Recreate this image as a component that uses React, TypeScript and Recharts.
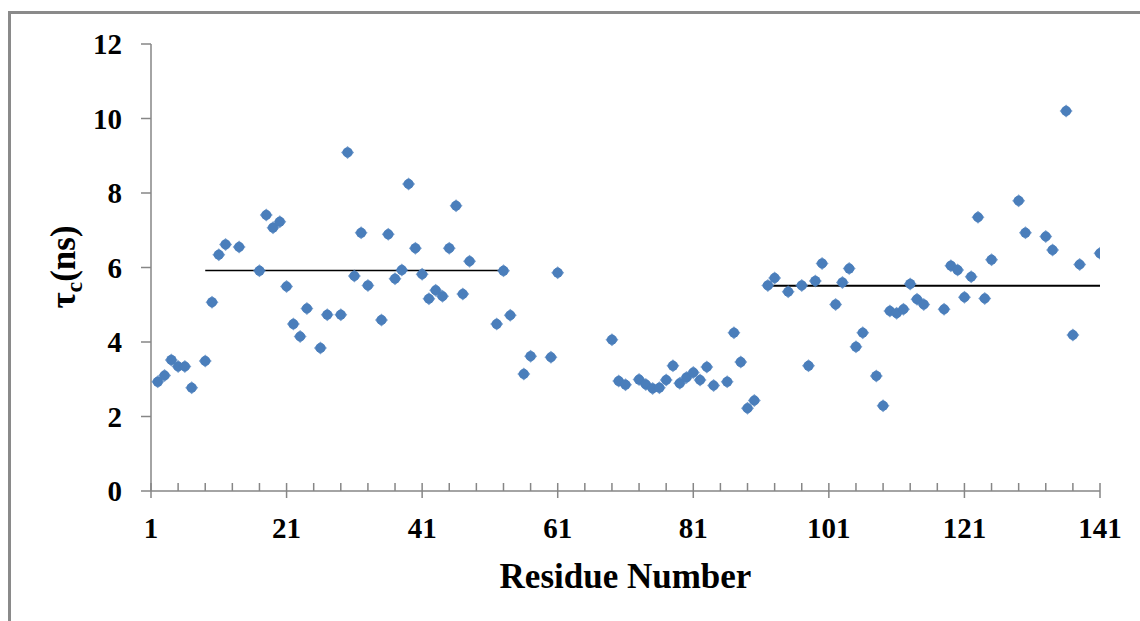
import React from "react";
import { ScatterChart, Scatter, XAxis, YAxis } from "recharts";

// Residue numbers with a measured correlation time
const residues = [
  2, 3, 4, 5, 6, 7, 9, 10, 11, 12, 14, 17, 18, 19, 20, 21, 22, 23, 24, 26, 27, 29, 30, 31, 32, 33,
  35, 36, 37, 38, 39, 40, 41, 42, 43, 44, 45, 46, 47, 48, 52, 53, 54, 56, 57, 60, 61, 69, 70, 71,
  73, 74, 75, 76, 77, 78, 79, 80, 81, 82, 83, 84, 86, 87, 88, 89, 90, 92, 93, 95, 97, 98, 99, 100,
  102, 103, 104, 105, 106, 108, 109, 110, 111, 112, 113, 114, 115, 118, 119, 120, 121, 122, 123,
  124, 125, 129, 130, 133, 134, 136, 137, 138, 141,
];

// tau_c in ns, one per residue above
const tauC = [
  2.93, 3.1, 3.52, 3.34, 3.34, 2.77, 3.49, 5.07, 6.34, 6.62, 6.55, 5.91, 7.41, 7.07, 7.23, 5.49,
  4.48, 4.15, 4.9, 3.84, 4.73, 4.73, 9.09, 5.77, 6.93, 5.52, 4.59, 6.89, 5.7, 5.93, 8.24, 6.52,
  5.82, 5.16, 5.39, 5.23, 6.52, 7.66, 5.29, 6.17, 4.48, 5.91, 4.72, 3.14, 3.62, 3.59, 5.86, 4.06,
  2.95, 2.85, 2.99, 2.86, 2.75, 2.77, 2.98, 3.36, 2.89, 3.05, 3.18, 2.98, 3.33, 2.83, 2.93, 4.25,
  3.46, 2.22, 2.43, 5.52, 5.72, 5.35, 5.52, 3.36, 5.64, 6.11, 5.01, 5.6, 5.97, 3.87, 4.25, 3.09,
  2.29, 4.83, 4.77, 4.88, 5.56, 5.15, 5.01, 4.88, 6.05, 5.93, 5.2, 5.75, 7.35, 5.17, 6.21, 7.79,
  6.93, 6.83, 6.47, 10.2, 4.19, 6.08, 6.38,
];

// average tau_c over the two ordered segments
const segmentN = [9, 53];
const segmentNMean = 5.92;
const segmentC = [92, 141];
const segmentCMean = 5.51;

const majorTicks = [1, 21, 41, 61, 81, 101, 121, 141];
const yTicks = [0, 2, 4, 6, 8, 10, 12];

const allXTicks: number[] = [];
for (let t = 1; t <= 141; t += 4) allXTicks.push(t);

const points = residues.map((r, i) => ({ x: r, y: tauC[i] }));
const lineN = segmentN.map((x) => ({ x, y: segmentNMean }));
const lineC = segmentC.map((x) => ({ x, y: segmentCMean }));

const SERIF = "'Liberation Serif', 'Times New Roman', serif";
const AXIS_GRAY = "#868686";
const DOT_BLUE = "#4A7EBB";

function Marker(props: any) {
  const { cx, cy } = props;
  const d = 6.5;
  return (
    <g>
      <polygon
        points={`${cx},${cy - d} ${cx + d},${cy} ${cx},${cy + d} ${cx - d},${cy}`}
        fill={DOT_BLUE}
        opacity={0.75}
      />
      <circle cx={cx} cy={cy} r={5} fill={DOT_BLUE} />
    </g>
  );
}

function NoMarker() {
  return <g />;
}

function ResidueTick(props: any) {
  const { x, y, payload } = props;
  const major = majorTicks.includes(payload.value);
  return (
    <g>
      <line x1={x} x2={x} y1={y - 8} y2={major ? y + 7 : y} stroke={AXIS_GRAY} strokeWidth={1.5} />
      {major && (
        <text
          x={x}
          y={y + 47}
          textAnchor="middle"
          fontFamily={SERIF}
          fontWeight="bold"
          fontSize={29}
          fill="#000"
        >
          {payload.value}
        </text>
      )}
    </g>
  );
}

function XTitle(props: any) {
  const { viewBox } = props;
  return (
    <text
      x={viewBox.x + viewBox.width / 2}
      y={viewBox.y + 97}
      textAnchor="middle"
      fontFamily={SERIF}
      fontWeight="bold"
      fontSize={35}
      fill="#000"
    >
      Residue Number
    </text>
  );
}

function YTitle() {
  const cx = 75;
  const cy = 267;
  return (
    <text
      x={cx}
      y={cy}
      transform={`rotate(-90 ${cx} ${cy})`}
      textAnchor="middle"
      fontFamily={SERIF}
      fontWeight="bold"
      fontSize={35}
      fill="#000"
    >
      τ
      <tspan fontSize={24} dy={7}>
        c
      </tspan>
      <tspan dy={-7}>(ns)</tspan>
    </text>
  );
}

export default function App() {
  return (
    <div
      style={{
        position: "absolute",
        left: 0,
        top: 0,
        width: 1140,
        height: 621,
        overflow: "hidden",
        background: "#fff",
      }}
    >
      <div
        style={{
          position: "absolute",
          left: 8,
          top: 11,
          width: 1200,
          height: 700,
          border: "3px solid #8a8a8a",
        }}
      />
      <div style={{ position: "absolute", left: 0, top: 0 }}>
        <ScatterChart width={1140} height={621} margin={{ top: 44, right: 40, bottom: 0, left: 0 }}>
          <XAxis
            type="number"
            dataKey="x"
            domain={[1, 141]}
            ticks={allXTicks}
            interval={0}
            tickSize={0}
            tickMargin={0}
            tickLine={false}
            tick={<ResidueTick />}
            height={130}
            axisLine={{ stroke: AXIS_GRAY, strokeWidth: 1.5 }}
            label={<XTitle />}
            allowDataOverflow
          />
          <YAxis
            type="number"
            dataKey="y"
            domain={[0, 12]}
            ticks={yTicks}
            interval={0}
            width={151}
            tickSize={10}
            tickMargin={19}
            tickLine={{ stroke: AXIS_GRAY, strokeWidth: 1.5 }}
            axisLine={{ stroke: AXIS_GRAY, strokeWidth: 1.5 }}
            tick={{ fontFamily: SERIF, fontWeight: "bold", fontSize: 29, fill: "#000" }}
            label={<YTitle />}
            allowDataOverflow
          />
          <Scatter
            data={lineN}
            line={{ stroke: "#000", strokeWidth: 1.3 }}
            shape={<NoMarker />}
            isAnimationActive={false}
          />
          <Scatter
            data={lineC}
            line={{ stroke: "#000", strokeWidth: 2 }}
            shape={<NoMarker />}
            isAnimationActive={false}
          />
          <Scatter data={points} shape={<Marker />} isAnimationActive={false} />
        </ScatterChart>
      </div>
    </div>
  );
}
